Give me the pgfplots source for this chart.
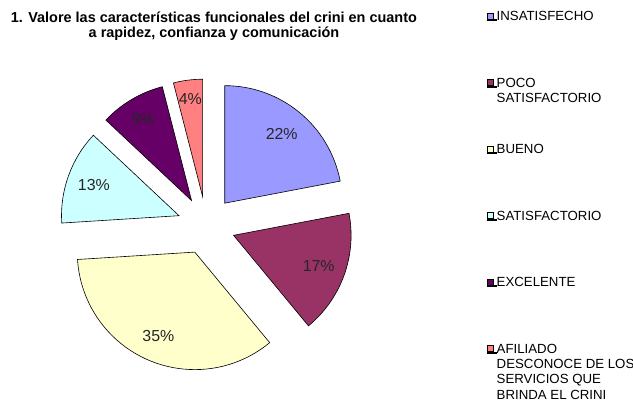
\documentclass[border=0pt]{standalone}
\usepackage{pgfplots}
\usepackage{pgfplotstable}
\pgfplotsset{compat=1.18}
\usepackage{fontspec}
\setmainfont{Liberation Sans}
\definecolor{c1}{HTML}{9999FF}
\definecolor{c2}{HTML}{993366}
\definecolor{c3}{HTML}{FFFFCC}
\definecolor{c4}{HTML}{CCFFFF}
\definecolor{c5}{HTML}{660066}
\definecolor{c6}{HTML}{FF8080}

% percentage, colour, label distance (fraction of radius)
\pgfplotstableread{
pct col lf
22 c1 0.76
17 c2 0.77
35 c3 0.78
13 c4 0.77
9  c5 0.81
4  c6 0.84
}\piedata

\newcommand\legtxt[1]{\begin{tabular}[t]{@{}l@{}}#1\end{tabular}}

\begin{document}
\begin{tikzpicture}
\begin{axis}[
  x=1bp, y=1bp, xmin=0, xmax=633, ymin=0, ymax=405,
  hide axis, clip=false,
  every axis title shift=0pt,
  title={1. Valore las características funcionales del crini en cuanto\\a rapidez, confianza y comunicación},
  title style={at={(axis description cs:0.338,0.972)}, anchor=north, align=center,
    font=\bfseries\fontsize{14.5}{15.5}\selectfont, inner sep=0pt},
  legend cell align=left,
  legend style={at={(axis cs:486.7,395.5)}, anchor=north west, draw=none, fill=none,
    inner sep=0pt, row sep=0pt, column sep=0pt,
    cells={anchor=base west},
    nodes={inner sep=0pt, text height=10.85bp, text depth=55.65bp,
      font=\fontsize{13.3}{15.5}\selectfont}},
  legend image code/.code={%
    \path (0,0) rectangle (9.3bp,1bp);
    \draw[#1, line width=0.6bp] (0,1.6bp) rectangle (6bp,7.6bp);},
]
\pgfplotsextra{
  \pgfplotstablegetrowsof{\piedata}
  \pgfmathtruncatemacro\nrows{\pgfplotsretval-1}
  \xdef\startang{90}
  \foreach \i in {0,...,\nrows}{
    \pgfplotstablegetelem{\i}{pct}\of\piedata \let\p\pgfplotsretval
    \pgfplotstablegetelem{\i}{col}\of\piedata \let\c\pgfplotsretval
    \pgfplotstablegetelem{\i}{lf}\of\piedata \let\lf\pgfplotsretval
    \pgfmathsetmacro\endang{\startang-3.6*\p}
    \pgfmathsetmacro\midang{(\startang+\endang)/2}
    \pgfmathsetmacro\ox{206.3+29*cos(\midang)}
    \pgfmathsetmacro\oy{179.5+29*sin(\midang)}
    \pgfmathsetmacro\lx{\ox+\lf*117.5*cos(\midang)}
    \pgfmathsetmacro\ly{\oy+\lf*117.5*sin(\midang)}
    \filldraw[fill=\c, draw=black, line width=0.6bp] (axis cs:\ox,\oy) -- ++(\startang:117.5bp)
      arc[start angle=\startang, end angle=\endang, radius=117.5bp] -- cycle;
    \node[font=\fontsize{16}{19}\selectfont, text=black!85] at (axis cs:\lx,\ly) {\p\%};
    \xdef\startang{\endang}
  }
}
\addlegendimage{fill=c1, draw=black}
\addlegendentry{\legtxt{INSATISFECHO}}
\addlegendimage{fill=c2, draw=black}
\addlegendentry{\legtxt{POCO\\SATISFACTORIO}}
\addlegendimage{fill=c3, draw=black}
\addlegendentry{\legtxt{BUENO}}
\addlegendimage{fill=c4, draw=black}
\addlegendentry{\legtxt{SATISFACTORIO}}
\addlegendimage{fill=c5, draw=black}
\addlegendentry{\legtxt{EXCELENTE}}
\addlegendimage{fill=c6, draw=black}
\addlegendentry{\legtxt{AFILIADO\\DESCONOCE DE LOS\\SERVICIOS QUE\\BRINDA EL CRINI}}
\end{axis}
\pgfresetboundingbox
\useasboundingbox (0,0) rectangle (633bp,405bp);
\end{tikzpicture}
\end{document}
